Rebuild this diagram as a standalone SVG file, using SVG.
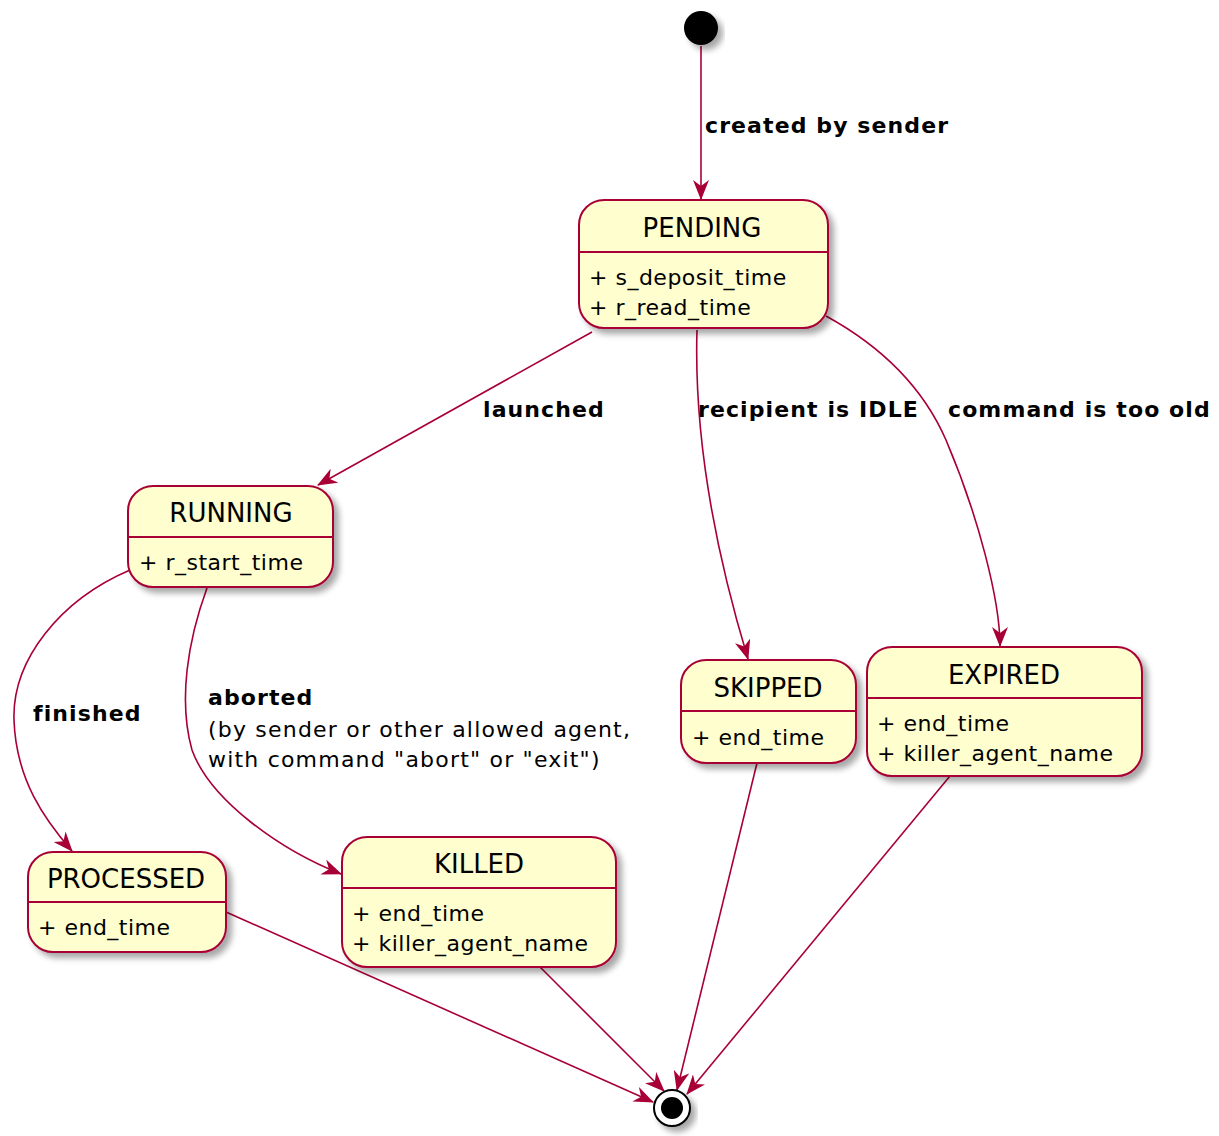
<svg xmlns="http://www.w3.org/2000/svg" width="1219" height="1136" viewBox="0 0 1219 1136">
<style>
.box{fill:#FEFECE;stroke:#A80036;stroke-width:2}
.div{stroke:#A80036;stroke-width:2}
.title{font-family:"DejaVu Sans",sans-serif;font-size:26px;fill:#000;text-anchor:middle}
.attr{font-family:"DejaVu Sans",sans-serif;font-size:22px;letter-spacing:0.5px;fill:#000}
.lbl{font-family:"DejaVu Sans",sans-serif;font-size:22px;letter-spacing:1.1px;font-weight:bold;fill:#000}
.lbl2{font-family:"DejaVu Sans",sans-serif;font-size:22px;letter-spacing:1.2px;fill:#000}
.edge{fill:none;stroke:#A80036;stroke-width:1.6;marker-end:url(#arr)}
</style>
<defs>
<filter id="sh" x="-20%" y="-20%" width="140%" height="150%">
<feGaussianBlur in="SourceAlpha" stdDeviation="3"/>
<feOffset dx="5" dy="5" result="b"/>
<feComponentTransfer><feFuncA type="linear" slope="0.35"/></feComponentTransfer>
<feMerge><feMergeNode/><feMergeNode in="SourceGraphic"/></feMerge>
</filter>
<marker id="arr" viewBox="0 0 20 16" refX="19" refY="8" markerWidth="20" markerHeight="16" markerUnits="userSpaceOnUse" orient="auto">
<path d="M0,0 L20,8 L0,16 L6,8 Z" fill="#A80036"/>
</marker>
</defs>
<rect width="1219" height="1136" fill="#fff"/>

<g id="connectors">
<path class="edge" d="M701,46 L701,199"/>
<path class="edge" d="M592,332 L318,485"/>
<path class="edge" d="M697,330 C694,430 712,540 748,659"/>
<path class="edge" d="M826,316 C888,350 925,392 946,440 C978,515 1000,600 1000,646"/>
<path class="edge" d="M130,570 C60,600 12,660 14,720 C16,780 45,820 72,851"/>
<path class="edge" d="M207,588 C188,640 178,700 192,750 C210,800 280,850 341,874"/>
<path class="edge" d="M226,912 L653,1102"/>
<path class="edge" d="M540,967 L664,1091"/>
<path class="edge" d="M757,763 L677,1090"/>
<path class="edge" d="M950,776 L687,1094"/>
<text class="lbl" x="705" y="133">created by sender</text>
<text class="lbl" x="483" y="417">launched</text>
<text class="lbl" x="698" y="417">recipient is IDLE</text>
<text class="lbl" x="948" y="417">command is too old</text>
<text class="lbl" x="33" y="721">finished</text>
<text class="lbl" x="208" y="705">aborted</text>
<text class="lbl2" x="208" y="737">(by sender or other allowed agent,</text>
<text class="lbl2" x="208" y="767">with command "abort" or "exit")</text>
</g>

<g id="start">
<circle cx="701" cy="28" r="17" fill="#000" filter="url(#sh)"/>
</g>

<g id="PENDING">
<rect class="box" x="579" y="200" width="249" height="128" rx="25" filter="url(#sh)"/>
<line class="div" x1="579" y1="252" x2="828" y2="252"/>
<text class="title" x="702" y="237">PENDING</text>
<text class="attr" x="589" y="285">+ s_deposit_time</text>
<text class="attr" x="589" y="315">+ r_read_time</text>
</g>

<g id="RUNNING">
<rect class="box" x="128" y="486" width="205" height="101" rx="25" filter="url(#sh)"/>
<line class="div" x1="128" y1="537" x2="333" y2="537"/>
<text class="title" x="231" y="522">RUNNING</text>
<text class="attr" x="139" y="570">+ r_start_time</text>
</g>

<g id="SKIPPED">
<rect class="box" x="681" y="660" width="175" height="103" rx="25" filter="url(#sh)"/>
<line class="div" x1="681" y1="711" x2="856" y2="711"/>
<text class="title" x="768" y="697">SKIPPED</text>
<text class="attr" x="692" y="745">+ end_time</text>
</g>

<g id="EXPIRED">
<rect class="box" x="867" y="647" width="275" height="129" rx="25" filter="url(#sh)"/>
<line class="div" x1="867" y1="698" x2="1142" y2="698"/>
<text class="title" x="1004" y="684">EXPIRED</text>
<text class="attr" x="877" y="731">+ end_time</text>
<text class="attr" x="877" y="761">+ killer_agent_name</text>
</g>

<g id="PROCESSED">
<rect class="box" x="28" y="852" width="198" height="100" rx="25" filter="url(#sh)"/>
<line class="div" x1="28" y1="902" x2="226" y2="902"/>
<text class="title" x="126" y="888">PROCESSED</text>
<text class="attr" x="38" y="935">+ end_time</text>
</g>

<g id="KILLED">
<rect class="box" x="342" y="837" width="274" height="130" rx="25" filter="url(#sh)"/>
<line class="div" x1="342" y1="888" x2="616" y2="888"/>
<text class="title" x="479" y="873">KILLED</text>
<text class="attr" x="352" y="921">+ end_time</text>
<text class="attr" x="352" y="951">+ killer_agent_name</text>
</g>

<g id="end">
<circle cx="672" cy="1108" r="18" fill="#fff" stroke="#000" stroke-width="2" filter="url(#sh)"/>
<circle cx="672" cy="1108" r="11" fill="#000"/>
</g>
</svg>
